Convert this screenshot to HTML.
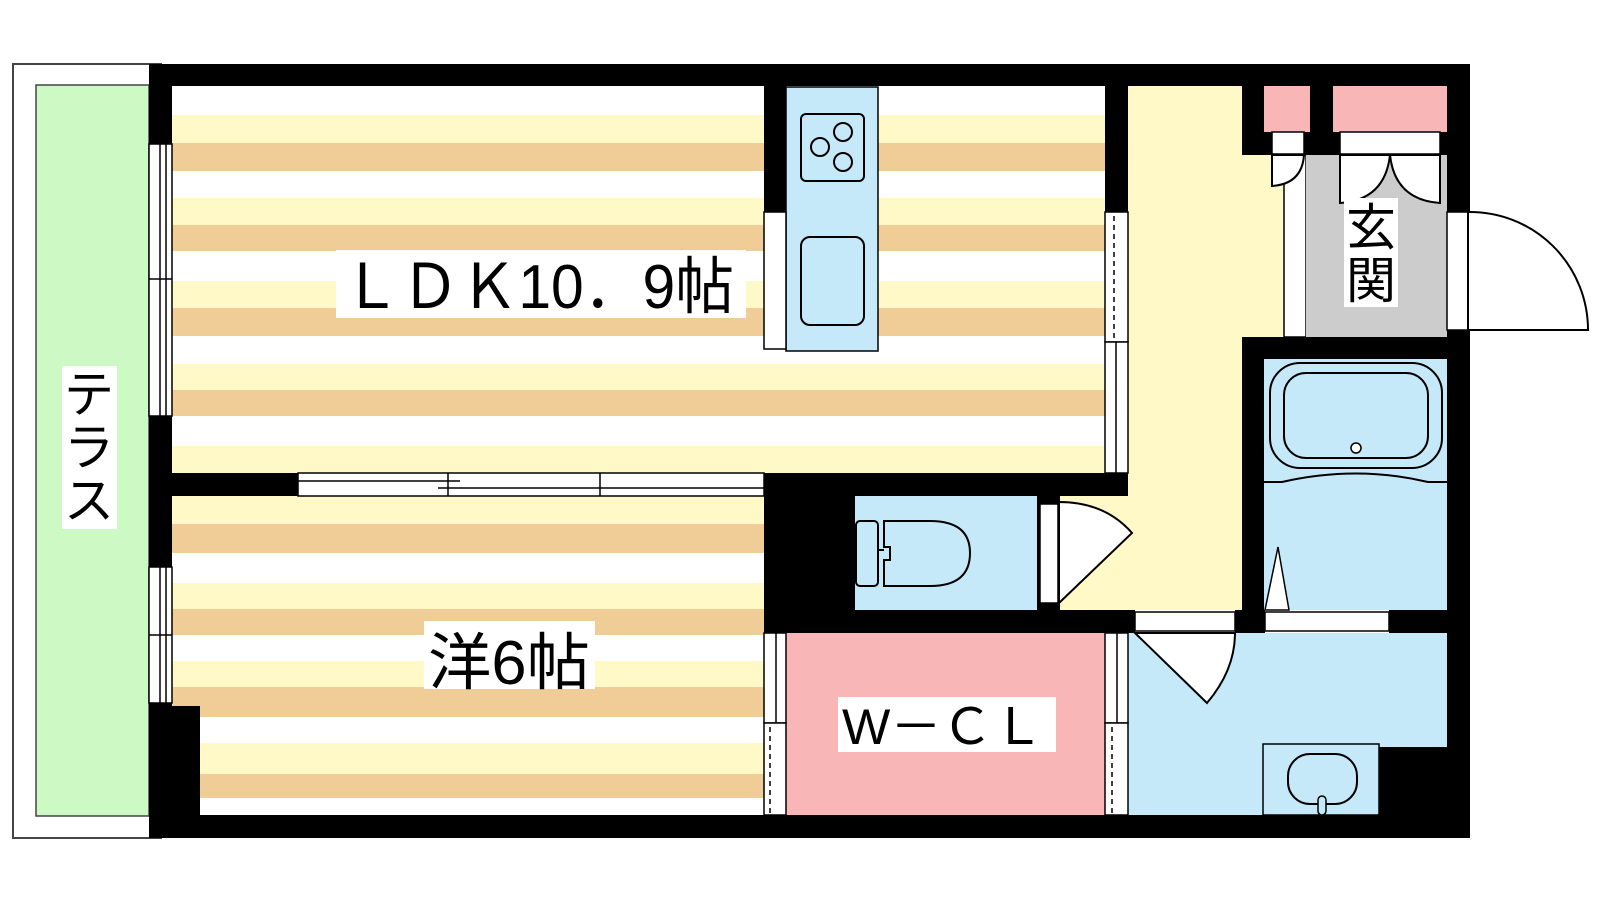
<!DOCTYPE html>
<html><head><meta charset="utf-8"><style>
html,body{margin:0;padding:0;background:#fff;width:1600px;height:900px;overflow:hidden}
svg{display:block}
text{font-family:"Liberation Sans","Noto Sans CJK JP",sans-serif;fill:#000}
</style></head><body>
<svg width="1600" height="900" viewBox="0 0 1600 900" xmlns="http://www.w3.org/2000/svg">
<!-- terrace -->
<rect x="13" y="64" width="148" height="774" fill="#fff" stroke="#444" stroke-width="2"/>
<rect x="36" y="85" width="113" height="731" fill="#cdf9c5" stroke="#444" stroke-width="1.5"/>
<rect x="62" y="366" width="55" height="163" fill="#fff"/>
<text x="89" y="412" font-size="50" text-anchor="middle">テ</text>
<text x="89" y="465" font-size="50" text-anchor="middle">ラ</text>
<text x="89" y="518" font-size="50" text-anchor="middle">ス</text>

<!-- LDK floor -->
<rect x="172" y="86" width="933" height="387" fill="#fff"/>
<g fill="#fff9c8">
<rect x="172" y="115" width="933" height="28"/><rect x="172" y="198" width="933" height="27"/>
<rect x="172" y="281" width="933" height="27"/><rect x="172" y="364" width="933" height="26"/>
<rect x="172" y="446" width="933" height="27"/>
</g>
<g fill="#f0cc96">
<rect x="172" y="143" width="933" height="28"/><rect x="172" y="225" width="933" height="26"/>
<rect x="172" y="308" width="933" height="28"/><rect x="172" y="390" width="933" height="26"/>
</g>
<!-- bedroom floor -->
<rect x="172" y="496" width="592" height="319" fill="#fff"/>
<g fill="#fff9c8">
<rect x="172" y="496" width="592" height="28"/><rect x="172" y="583" width="592" height="26"/>
<rect x="172" y="661" width="592" height="26"/><rect x="172" y="743" width="592" height="31"/>
</g>
<g fill="#f0cc96">
<rect x="172" y="524" width="592" height="29"/><rect x="172" y="609" width="592" height="26"/>
<rect x="172" y="687" width="592" height="30"/><rect x="172" y="774" width="592" height="24"/>
</g>

<!-- corridor -->
<rect x="1128" y="86" width="114" height="524" fill="#fff9c8"/>
<rect x="1060" y="496" width="182" height="114" fill="#fff9c8"/>
<rect x="1242" y="155" width="42" height="182" fill="#fff9c8"/>
<rect x="1284" y="155" width="22" height="182" fill="#fff" stroke="#000" stroke-width="1.5"/>
<!-- genkan -->
<rect x="1306" y="155" width="141" height="182" fill="#cccccc"/>
<!-- closets -->
<rect x="1264" y="86" width="46" height="46" fill="#f8b6b6"/>
<rect x="1333" y="86" width="114" height="46" fill="#f8b6b6"/>
<!-- kitchen -->
<rect x="786" y="87" width="92" height="264" fill="#c5e9f9" stroke="#000" stroke-width="1.5"/>
<rect x="801" y="114" width="63" height="67" rx="5" fill="none" stroke="#000" stroke-width="2"/>
<g fill="none" stroke="#000" stroke-width="2">
<circle cx="843" cy="132" r="9"/><circle cx="820" cy="147" r="9"/><circle cx="843" cy="162" r="9"/>
</g>
<rect x="801" y="237" width="63" height="88" rx="9" fill="none" stroke="#000" stroke-width="2"/>
<rect x="764" y="212" width="22" height="137" fill="#fff" stroke="#000" stroke-width="1.5"/>

<!-- toilet room -->
<rect x="855" y="496" width="182" height="114" fill="#c5e9f9"/>
<rect x="856" y="521" width="22" height="65" rx="4" fill="none" stroke="#000" stroke-width="2"/>
<path d="M884 521 H930 Q970 521 970 553 Q970 586 930 586 H884 V560 H890 V547 H884 Z" fill="none" stroke="#000" stroke-width="2"/>
<line x1="878" y1="550" x2="884" y2="550" stroke="#000" stroke-width="2"/>
<!-- WCL -->
<rect x="786" y="633" width="319" height="182" fill="#f8b6b6"/>
<rect x="838" y="697" width="218" height="55" fill="#fff"/>
<text x="842" y="744" font-size="50" textLength="202" lengthAdjust="spacingAndGlyphs">W－ＣＬ</text>
<!-- bath -->
<rect x="1264" y="359" width="183" height="251" fill="#c5e9f9"/>
<rect x="1270" y="363" width="172" height="105" rx="30" fill="none" stroke="#000" stroke-width="2"/>
<rect x="1284" y="373" width="144" height="85" rx="22" fill="none" stroke="#000" stroke-width="2"/>
<circle cx="1356" cy="448" r="5" fill="#fff" stroke="#000" stroke-width="1.5"/>
<path d="M1264 482 H1282 Q1356 465 1428 482 H1447" fill="none" stroke="#000" stroke-width="2"/>
<polygon points="1265,610 1278,547 1289,610" fill="#fff" stroke="#000" stroke-width="1.5"/>
<!-- washroom -->
<rect x="1128" y="633" width="319" height="182" fill="#c5e9f9"/>
<rect x="1379" y="747" width="68" height="68" fill="#000"/>
<rect x="1263" y="744" width="116" height="71" fill="#c5e9f9" stroke="#000" stroke-width="1.5"/>
<rect x="1288" y="754" width="69" height="50" rx="22" fill="none" stroke="#000" stroke-width="2"/>
<rect x="1318" y="796" width="8" height="19" rx="4" fill="#c5e9f9" stroke="#000" stroke-width="1.5"/>
<path d="M1135 633 L1207 703 Q1235 670 1235 633 Z" fill="#fff" stroke="#000" stroke-width="2"/>

<!-- walls -->
<g fill="#000">
<rect x="149" y="64" width="1321" height="22"/>
<rect x="149" y="64" width="23" height="774"/>
<rect x="149" y="815" width="1321" height="23"/>
<rect x="1447" y="64" width="23" height="774"/>
<rect x="149" y="706" width="51" height="132"/>
<rect x="172" y="473" width="126" height="23"/>
<rect x="764" y="473" width="364" height="23"/>
<rect x="764" y="473" width="91" height="160"/>
<rect x="764" y="610" width="371" height="23"/>
<rect x="1235" y="610" width="30" height="23"/>
<rect x="1389" y="610" width="58" height="23"/>
<rect x="1037" y="496" width="23" height="114"/>
<rect x="764" y="86" width="22" height="126"/>
<rect x="1105" y="86" width="23" height="126"/>
<rect x="1242" y="86" width="22" height="69"/>
<rect x="1242" y="132" width="30" height="23"/>
<rect x="1304" y="132" width="36" height="23"/>
<rect x="1440" y="132" width="7" height="23"/>
<rect x="1310" y="86" width="23" height="69"/>
<rect x="1242" y="337" width="228" height="22"/>
<rect x="1242" y="337" width="22" height="296"/>
</g>

<!-- left windows -->
<g fill="#fff" stroke="#000" stroke-width="1.5">
<rect x="149" y="144" width="23" height="272"/>
<rect x="149" y="567" width="23" height="136"/>
</g>
<g stroke="#000" stroke-width="1.5">
<line x1="160" y1="144" x2="160" y2="416"/><line x1="166" y1="144" x2="166" y2="416"/>
<line x1="149" y1="279" x2="172" y2="279"/>
<line x1="160" y1="567" x2="160" y2="703"/><line x1="166" y1="567" x2="166" y2="703"/>
<line x1="149" y1="635" x2="172" y2="635"/>
</g>
<!-- sliding window LDK/bedroom -->
<rect x="298" y="473" width="466" height="23" fill="#fff" stroke="#000" stroke-width="1.5"/>
<g stroke="#000" stroke-width="1.5">
<line x1="298" y1="481" x2="460" y2="481"/><line x1="438" y1="488" x2="764" y2="488"/>
<line x1="448" y1="473" x2="448" y2="496"/><line x1="600" y1="473" x2="600" y2="496"/>
</g>
<!-- LDK right window -->
<rect x="1105" y="212" width="23" height="130" fill="#fff" stroke="#000" stroke-width="1.5"/>
<line x1="1114" y1="216" x2="1114" y2="340" stroke="#000" stroke-width="1.5" stroke-dasharray="5,4"/>
<rect x="1105" y="342" width="23" height="131" fill="#fff" stroke="#000" stroke-width="1.5"/>
<line x1="1116" y1="342" x2="1116" y2="473" stroke="#000" stroke-width="1.5"/>
<!-- WCL side windows -->
<g fill="#fff" stroke="#000" stroke-width="1.5">
<rect x="764" y="633" width="22" height="90"/><rect x="764" y="723" width="22" height="92"/>
<rect x="1105" y="633" width="23" height="90"/><rect x="1105" y="723" width="23" height="92"/>
</g>
<g stroke="#000" stroke-width="1.5">
<line x1="776" y1="633" x2="776" y2="723"/><line x1="1117" y1="633" x2="1117" y2="723"/>
<line x1="770" y1="727" x2="770" y2="813" stroke-dasharray="5,4"/>
<line x1="1112" y1="727" x2="1112" y2="813" stroke-dasharray="5,4"/>
</g>
<!-- bath/wash door strips -->
<rect x="1135" y="612" width="100" height="19" fill="#fff" stroke="#000" stroke-width="1.5"/>
<rect x="1265" y="612" width="124" height="19" fill="#fff" stroke="#000" stroke-width="1.5"/>
<!-- toilet door -->
<rect x="1040" y="504" width="18" height="99" fill="#fff" stroke="#000" stroke-width="1.5"/>
<path d="M1059 502 Q1105 502 1132 533 L1059 603 Z" fill="#fff" stroke="#000" stroke-width="2"/>
<!-- closet doors -->
<rect x="1272" y="132" width="32" height="22" fill="#fff" stroke="#000" stroke-width="1.5"/>
<rect x="1340" y="132" width="100" height="22" fill="#fff" stroke="#000" stroke-width="1.5"/>
<g fill="#fff" stroke="#000" stroke-width="2">
<path d="M1272 155 V186 Q1302 184 1304 155 Z"/>
<path d="M1340 155 V203 Q1385 200 1390 155 Z"/>
<path d="M1440 155 V203 Q1395 200 1390 155 Z"/>
</g>
<rect x="1344" y="198" width="54" height="109" fill="#fff"/>
<text x="1371" y="245" font-size="50" text-anchor="middle">玄</text>
<text x="1371" y="298" font-size="50" text-anchor="middle">関</text>
<!-- entrance door -->
<rect x="1447" y="212" width="21" height="118" fill="#fff" stroke="#000" stroke-width="1.5"/>
<path d="M1468 212 A118 118 0 0 1 1588 330 H1468 Z" fill="#fff" stroke="#000" stroke-width="2"/>

<!-- labels -->
<rect x="336" y="250" width="410" height="68" fill="#fff"/>
<text x="342" y="308" font-size="62" textLength="392" lengthAdjust="spacingAndGlyphs">ＬＤＫ10．9帖</text>
<rect x="424" y="621" width="171" height="68" fill="#fff"/>
<text x="428" y="684" font-size="62" textLength="162" lengthAdjust="spacingAndGlyphs">洋6帖</text>
</svg>
</body></html>
